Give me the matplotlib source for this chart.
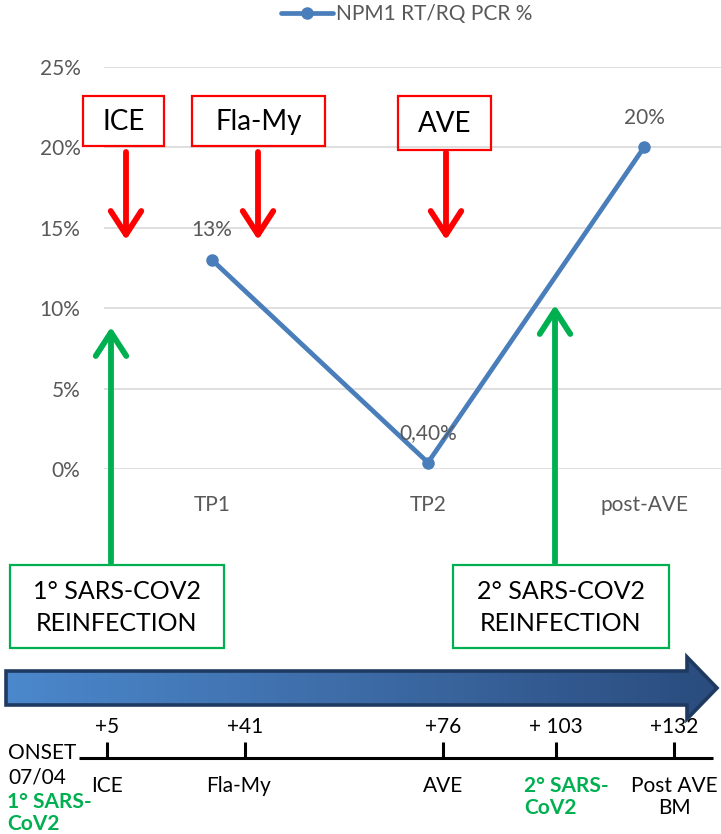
import numpy as np
import matplotlib.pyplot as plt
from matplotlib.patches import Rectangle, Polygon, FancyArrowPatch
from matplotlib.colors import LinearSegmentedColormap

plt.rcParams['font.family'] = ['Lato', 'DejaVu Sans']

# NPM1 RT/RQ PCR by time point
time_points = ['TP1', 'TP2', 'post-AVE']
npm1_pct = [13, 0.4, 20]
point_labels = ['13%', '0,40%', '20%']
y_ticks = [0, 5, 10, 15, 20, 25]

# therapy blocks and infections
therapies = ['ICE', 'Fla-My', 'AVE']
infections = ['1° SARS-COV2\nREINFECTION', '2° SARS-COV2\nREINFECTION']

# timeline below the chart
day_labels = ['+5', '+41', '+76', '+ 103', '+132']
event_labels = ['ICE', 'Fla-My', 'AVE', '2° SARS-\nCoV2', 'Post AVE\nBM']

W, H = 721, 834
GREY = '#595959'
BLUE = '#4A7EBB'
RED = '#FF0000'
GREEN = '#00B050'

fig = plt.figure(figsize=(W / 100, H / 100), dpi=100)

# ---- line chart ----
px_per_cat = 216
ax = fig.add_axes([104 / W, (H - 469) / H, 617 / W, 402 / H])
x = np.arange(len(time_points))
line, = ax.plot(x, npm1_pct, color=BLUE, lw=3.4, marker='o', ms=8,
                solid_capstyle='round', label='NPM1 RT/RQ PCR %', zorder=3)
for xi, v, lab in zip(x, npm1_pct, point_labels):
    ax.annotate(lab, (xi, v), xytext=(0, 21.5), textcoords='offset points',
                ha='center', va='center', fontsize=15, color=GREY)

ax.set_xlim(-0.5, -0.5 + 617 / px_per_cat)
ax.set_ylim(0, 25)
ax.set_yticks(y_ticks)
ax.set_yticklabels([f'{t}%' for t in y_ticks])
ax.set_xticks(x)
ax.set_xticklabels(time_points)
ax.tick_params(length=0, labelsize=15, labelcolor=GREY)
ax.tick_params(axis='y', pad=17)
ax.tick_params(axis='x', pad=19)
ax.grid(axis='y', color='#D9D9D9', lw=1.2)
ax.set_axisbelow(True)
for s in ax.spines.values():
    s.set_visible(False)

fig.legend(handles=[line], loc='center', bbox_to_anchor=(407 / W, 1 - 14 / H),
           frameon=False, fontsize=15, labelcolor=GREY, handlelength=2.5,
           handletextpad=0.15)

# ---- annotations drawn in pixel space ----
ov = fig.add_axes([0, 0, 1, 1], zorder=5)
ov.set_xlim(0, W)
ov.set_ylim(H, 0)
ov.axis('off')
ov.patch.set_visible(False)


def box(x0, y0, w, h, color, text, fs):
    ov.add_patch(Rectangle((x0, y0), w, h, fill=False, ec=color, lw=1.6))
    ov.text(x0 + w / 2, y0 + h / 2 + 1, text, ha='center', va='center',
            fontsize=fs, color='black', linespacing=1.45)


def arrow(xp, y0, y1, color):
    ov.add_patch(FancyArrowPatch((xp, y0), (xp, y1),
                                 arrowstyle='->,head_length=0.85,head_width=0.55',
                                 mutation_scale=20, lw=4.2, color=color,
                                 shrinkA=0, shrinkB=0, capstyle='round',
                                 joinstyle='round'))


# therapy boxes with red arrows
red_boxes = [(83, 96, 81, 50), (192, 96, 133, 50), (398, 96, 93, 54)]
red_arrow_x = [126, 258, 446]
for (bx, by, bw, bh), name, ax_x in zip(red_boxes, therapies, red_arrow_x):
    box(bx, by, bw, bh, RED, name, 20)
    arrow(ax_x, 152, 240, RED)

# infection boxes with green arrows
green_boxes = [(10, 565, 214, 83), (453, 565, 216, 83)]
green_arrow = [(111, 563, 327), (555, 563, 305)]
for (bx, by, bw, bh), name, (gx, g0, g1) in zip(green_boxes, infections, green_arrow):
    box(bx, by, bw, bh, GREEN, name, 18)
    arrow(gx, g0, g1, GREEN)

# big gradient time arrow
verts = [(6, 671), (687, 671), (687, 657), (717, 688), (687, 719),
         (687, 705), (6, 705)]
shape = Polygon(verts, closed=True, fc='none', ec='#1F3A60', lw=2.6,
                joinstyle='miter', zorder=4)
ov.add_patch(shape)
cmap = LinearSegmentedColormap.from_list('arr', ['#4B88CC', '#3D6BA6', '#2A4C7E'])
grad = ov.imshow(np.linspace(0, 1, 256)[None, :], cmap=cmap, aspect='auto',
                 extent=(6, 717, 719, 657), zorder=3)
grad.set_clip_path(shape)
ov.set_xlim(0, W)
ov.set_ylim(H, 0)

# timeline
tick_x = [107, 245, 443, 556, 674]
ov.plot([79, 713], [758, 758], color='black', lw=2.2, solid_capstyle='butt')
for tx, dl, ev in zip(tick_x, day_labels, event_labels):
    ov.plot([tx, tx], [742, 758], color='black', lw=2.2, solid_capstyle='butt')
    ov.text(tx, 727, dl, ha='center', va='center', fontsize=15, color='black')
    if ev.startswith('2°'):
        ov.text(524, 797, ev, ha='left', va='center', fontsize=15,
                color=GREEN, fontweight='bold', linespacing=1.15)
    else:
        ov.text(tx - 6 if ev == 'Fla-My' else tx, 797 if '\n' in ev else 786, ev,
                ha='center', va='center', fontsize=15, color='black',
                linespacing=1.15)

ov.text(8, 753, 'ONSET', ha='left', va='center', fontsize=15, color='black')
ov.text(8, 778, '07/04', ha='left', va='center', fontsize=15, color='black')
ov.text(7, 813, '1° SARS-\nCoV2', ha='left', va='center', fontsize=15,
        color=GREEN, fontweight='bold', linespacing=1.15)

fig.savefig('out.png', dpi=100)
